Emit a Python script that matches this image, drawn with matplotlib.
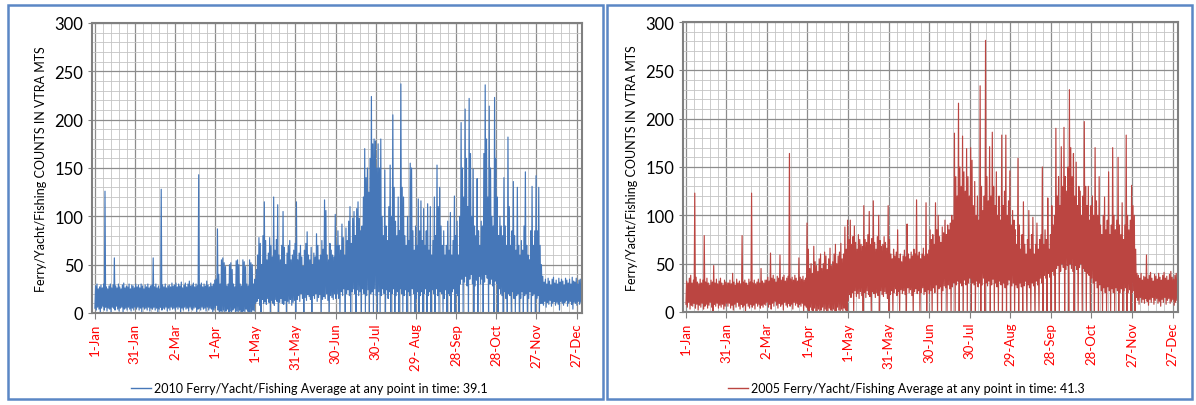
import numpy as np
import matplotlib
matplotlib.use('Agg')
import matplotlib.pyplot as plt
from matplotlib.patches import Rectangle
from matplotlib.lines import Line2D

plt.rcParams['font.family'] = ['Lato', 'DejaVu Sans']

tick_days = [0, 30, 60, 90, 120, 150, 180, 210, 240, 270, 300, 330, 360]
labels_2010 = ['1-Jan', '31-Jan', '2-Mar', '1-Apr', '1-May', '31-May', '30-Jun',
               '30-Jul', '29- Aug', '28-Sep', '28-Oct', '27-Nov', '27-Dec']
labels_2005 = ['1-Jan', '31-Jan', '2-Mar', '1-Apr', '1-May', '31-May', '30-Jun',
               '30-Jul', '29-Aug', '28-Sep', '28-Oct', '27-Nov', '27-Dec']

# daily peak / trough counts, one value per day (Jan..Dec)
hi_2010 = [
    28, 30, 25, 27, 29, 26, 30, 126, 27, 25, 28, 30, 26, 29, 57, 28, 26, 30, 27, 25, 29, 31, 26, 28, 27, 30, 25, 29, 28, 26, 30,
    27, 29, 26, 30, 28, 25, 29, 27, 30, 26, 28, 29, 57, 27, 30, 26, 28, 25, 128, 29, 27, 30, 26, 28, 29, 27, 31, 28,
    29, 31, 27, 30, 28, 32, 26, 29, 31, 27, 30, 33, 28, 29, 31, 27, 30, 28, 143, 29, 31, 27, 30, 28, 33, 29, 27, 31, 28, 30, 34,
    35, 87, 40, 30, 55, 57, 52, 48, 28, 30, 50, 52, 45, 30, 27, 54, 55, 50, 30, 28, 55, 53, 48, 30, 28, 55, 52, 50, 30, 35,
    45, 60, 78, 72, 50, 80, 115, 75, 55, 62, 78, 70, 58, 120, 65, 76, 112, 60, 55, 70, 105, 68, 50, 62, 70, 75, 55, 60, 65, 72, 115,
    55, 62, 70, 58, 48, 65, 72, 84, 60, 55, 68, 50, 62, 58, 82, 70, 55, 60, 75, 66, 117, 106, 60, 55, 72, 65, 60, 58, 102, 70,
    85, 70, 65, 92, 78, 60, 88, 75, 95, 110, 72, 98, 105, 80, 108, 115, 98, 85, 90, 120, 170, 140, 150, 125, 160, 224, 175, 180, 178, 150, 175,
    150, 180, 100, 80, 148, 90, 75, 110, 153, 100, 205, 130, 95, 80, 120, 85, 237, 130, 120, 80, 70, 100, 75, 155, 150, 85, 65, 90, 70, 118, 85,
    116, 75, 108, 70, 85, 113, 65, 110, 60, 75, 120, 80, 153, 110, 130, 90, 70, 85, 60, 70, 95, 65, 104, 60, 75, 121, 80, 95, 60, 100,
    197, 150, 120, 211, 160, 110, 222, 165, 100, 149, 90, 80, 139, 85, 70, 95, 90, 165, 236, 180, 120, 214, 150, 100, 90, 223, 160, 120, 80, 100, 90,
    80, 140, 90, 70, 182, 110, 70, 85, 136, 80, 65, 130, 70, 60, 75, 65, 90, 146, 70, 60, 55, 85, 131, 70, 85, 142, 85, 130, 70, 50,
    38, 32, 35, 30, 36, 33, 29, 35, 37, 31, 34, 30, 36, 32, 35, 33, 29, 36, 34, 31, 35, 30, 37, 33, 32, 36, 30, 34, 35, 31, 36,
]
lo_2010 = [
    5, 3, 6, 4, 0, 5, 7, 3, 6, 2, 5, 4, 0, 6, 5, 3, 7, 4, 2, 5, 6, 0, 4, 5, 3, 6, 4, 2, 5, 3, 6,
    4, 6, 3, 5, 0, 6, 4, 5, 3, 6, 2, 5, 4, 6, 3, 5, 0, 4, 6, 3, 5, 4, 6, 2, 5, 3, 6, 4,
    5, 3, 6, 4, 6, 0, 5, 3, 6, 4, 5, 2, 6, 4, 3, 5, 6, 0, 4, 5, 3, 6, 4, 5, 2, 6, 3, 5, 4, 0, 3,
    5, 8, 3, 0, 2, 0, 3, 0, 2, 4, 0, 2, 0, 3, 5, 0, 2, 0, 3, 1, 0, 2, 0, 4, 2, 0, 1, 0, 3, 2,
    10, 12, 15, 8, 0, 14, 10, 12, 9, 15, 11, 0, 13, 10, 8, 14, 12, 0, 11, 15, 10, 9, 13, 0, 12, 10, 14, 8, 11, 13, 0,
    14, 18, 12, 20, 15, 0, 16, 13, 19, 17, 14, 0, 18, 15, 20, 12, 16, 19, 0, 14, 17, 15, 20, 13, 0, 18, 16, 14, 20, 15,
    20, 15, 0, 22, 18, 25, 0, 20, 24, 18, 0, 22, 25, 20, 0, 24, 18, 22, 0, 25, 20, 0, 18, 24, 0, 20, 22, 0, 25, 18, 0,
    22, 0, 18, 25, 20, 0, 24, 15, 22, 0, 20, 25, 0, 18, 22, 0, 25, 20, 0, 18, 24, 0, 22, 18, 0, 25, 20, 0, 15, 22, 0,
    18, 22, 0, 20, 25, 0, 18, 22, 0, 24, 20, 0, 25, 18, 0, 22, 20, 0, 15, 24, 0, 20, 18, 0, 22, 25, 0, 20, 18, 0,
    30, 35, 0, 32, 38, 28, 0, 35, 40, 30, 0, 28, 34, 0, 38, 30, 35, 0, 32, 40, 36, 0, 30, 35, 28, 0, 33, 30, 0, 25, 20,
    18, 0, 22, 15, 0, 20, 18, 0, 22, 15, 0, 18, 20, 0, 15, 22, 0, 18, 20, 0, 15, 22, 0, 18, 20, 0, 15, 18, 0, 10,
    10, 8, 12, 6, 11, 9, 13, 7, 10, 12, 8, 11, 9, 3, 12, 10, 8, 11, 13, 7, 10, 12, 9, 4, 11, 10, 8, 12, 9, 11, 10,
]

hi_2005 = [
    32, 30, 35, 38, 30, 33, 123, 36, 31, 29, 34, 30, 33, 79, 31, 35, 30, 28, 33, 31, 48, 30, 34, 29, 32, 35, 30, 28, 33, 31, 30,
    30, 33, 29, 40, 31, 28, 34, 30, 32, 29, 79, 31, 33, 30, 28, 34, 31, 123, 30, 33, 29, 31, 34, 30, 45, 32, 30, 33,
    33, 36, 32, 61, 35, 38, 34, 31, 37, 35, 59, 33, 36, 38, 32, 35, 37, 164, 34, 36, 33, 38, 35, 32, 56, 36, 34, 37, 33, 35, 92,
    65, 45, 50, 40, 68, 52, 48, 42, 55, 60, 45, 50, 62, 58, 44, 55, 66, 48, 52, 60, 70, 50, 58, 62, 71, 55, 60, 88, 65, 95,
    75, 95, 70, 78, 89, 72, 65, 80, 75, 70, 68, 110, 75, 72, 80, 104, 70, 76, 115, 72, 65, 78, 100, 74, 68, 70, 78, 72, 66, 110, 75,
    60, 55, 65, 58, 62, 85, 55, 60, 52, 58, 64, 57, 91, 60, 55, 62, 58, 65, 60, 116, 58, 62, 55, 60, 66, 58, 113, 60, 64, 85,
    75, 80, 70, 113, 85, 100, 78, 72, 88, 82, 95, 80, 90, 85, 92, 100, 95, 185, 140, 120, 216, 150, 130, 182, 145, 125, 169, 140, 120, 170, 157,
    110, 135, 100, 120, 95, 234, 130, 105, 120, 281, 140, 115, 171, 120, 186, 130, 110, 145, 100, 120, 95, 183, 110, 125, 183, 100, 115, 146, 90, 105, 95,
    85, 70, 159, 90, 65, 80, 114, 70, 60, 75, 105, 65, 80, 98, 60, 70, 92, 65, 75, 80, 150, 70, 85, 75, 118, 65, 80, 110, 90, 100,
    190, 120, 140, 110, 171, 130, 191, 140, 125, 150, 230, 170, 140, 164, 120, 155, 110, 130, 125, 100, 120, 197, 130, 110, 130, 95, 110, 120, 100, 170, 115,
    100, 140, 90, 80, 100, 119, 85, 95, 145, 80, 90, 170, 100, 85, 95, 160, 90, 80, 113, 75, 90, 183, 100, 85, 95, 131, 110, 100, 65, 40,
    38, 35, 40, 33, 37, 36, 59, 34, 38, 41, 35, 32, 39, 37, 34, 40, 36, 33, 38, 41, 35, 37, 33, 39, 42, 36, 34, 38, 40, 35, 38,
]
lo_2005 = [
    8, 5, 10, 3, 7, 6, 9, 4, 8, 2, 7, 5, 9, 3, 6, 8, 4, 7, 10, 5, 0, 8, 6, 9, 4, 7, 5, 8, 3, 6, 9,
    6, 9, 4, 7, 2, 8, 5, 10, 6, 3, 8, 5, 7, 0, 9, 6, 4, 8, 5, 7, 3, 9, 6, 8, 4, 7, 5, 8,
    7, 10, 5, 8, 3, 9, 6, 11, 7, 4, 9, 6, 8, 2, 10, 7, 5, 9, 6, 8, 3, 10, 7, 9, 5, 8, 6, 9, 0, 7, 5,
    3, 0, 5, 2, 0, 4, 1, 0, 3, 0, 2, 5, 0, 3, 1, 0, 4, 2, 0, 3, 1, 0, 5, 2, 0, 3, 0, 4, 2, 0,
    12, 18, 15, 20, 0, 22, 16, 19, 14, 21, 17, 0, 20, 15, 22, 18, 16, 0, 21, 19, 15, 20, 17, 0, 22, 18, 16, 21, 19, 14, 0,
    18, 22, 0, 20, 24, 17, 21, 0, 23, 19, 22, 18, 0, 25, 20, 23, 17, 0, 21, 24, 19, 22, 0, 20, 25, 18, 21, 0, 23, 19,
    22, 0, 25, 20, 28, 0, 24, 26, 0, 22, 27, 25, 0, 28, 24, 0, 26, 30, 0, 28, 32, 0, 30, 27, 0, 33, 28, 0, 30, 35, 0,
    30, 28, 0, 32, 26, 30, 0, 28, 35, 0, 30, 27, 32, 0, 28, 34, 0, 30, 26, 0, 32, 28, 0, 30, 25, 0, 28, 33, 0, 27, 30,
    0, 28, 25, 0, 30, 26, 0, 27, 32, 0, 28, 25, 0, 30, 27, 0, 32, 28, 0, 35, 30, 0, 38, 35, 0, 40, 36, 0, 42, 38,
    0, 45, 48, 0, 42, 50, 46, 0, 44, 48, 0, 50, 45, 42, 0, 48, 44, 0, 46, 50, 0, 45, 42, 0, 40, 38, 0, 35, 30, 0, 32,
    25, 0, 28, 22, 0, 25, 20, 0, 26, 22, 0, 24, 20, 0, 25, 22, 0, 20, 24, 0, 22, 25, 0, 20, 23, 0, 20, 22, 0, 15,
    12, 8, 15, 10, 13, 9, 14, 11, 7, 13, 10, 15, 8, 12, 14, 9, 11, 6, 13, 10, 15, 8, 12, 14, 9, 11, 13, 7, 10, 12, 11,
]

legend_2010 = '2010 Ferry/Yacht/Fishing Average at any point in time: 39.1'
legend_2005 = '2005 Ferry/Yacht/Fishing Average at any point in time: 41.3'
ylabel = 'Ferry/Yacht/Fishing COUNTS IN VTRA MTS'


def zigzag(lo, hi):
    n = min(len(lo), len(hi))
    d = np.arange(n)
    x = np.column_stack((d + 0.2, d + 0.7)).ravel()
    y = np.column_stack((lo[:n], hi[:n])).ravel()
    return x, y


def draw_panel(fig, rect, lo, hi, color, labels, legend_text, leg_x):
    ax = fig.add_axes(rect)
    x, y = zigzag(lo, hi)
    ax.plot(x, y, color=color, lw=0.85)
    ax.set_xlim(-2, 364)
    ax.set_ylim(0, 300)
    ax.set_yticks(range(0, 301, 50))
    ax.set_yticks(range(0, 301, 10), minor=True)
    ax.set_xticks(tick_days)
    ax.set_xticks(np.arange(0, 364, 6), minor=True)
    ax.set_xticklabels(labels, rotation=90, color='#ff0000', fontsize=9.5)
    ax.tick_params(axis='y', labelsize=12, length=3, color='#808080')
    ax.tick_params(axis='x', length=4, color='#808080', pad=3)
    ax.tick_params(which='minor', length=0)
    ax.grid(which='major', color='#8c8c8c', lw=0.9)
    ax.grid(which='minor', color='#c4c4c4', lw=0.6)
    ax.set_axisbelow(True)
    for s in ax.spines.values():
        s.set_color('#808080')
        s.set_linewidth(1.5)
    ax.set_ylabel(ylabel, fontsize=9, labelpad=5)
    h = Line2D([], [], color=color, lw=1.0)
    ax.legend([h], [legend_text], loc='center', bbox_to_anchor=(leg_x, 0.042),
              bbox_transform=fig.transFigure, frameon=False, fontsize=9,
              handlelength=1.6, handletextpad=0.2)
    return ax


fig = plt.figure(figsize=(11.96, 4.06), dpi=100)

# panel borders
fig.patches.append(Rectangle((8 / 1196, 6 / 406), 595 / 1196, 394 / 406, transform=fig.transFigure,
                             fill=False, ec='#5b87c5', lw=1.8))
fig.patches.append(Rectangle((607 / 1196, 6 / 406), 585 / 1196, 394 / 406, transform=fig.transFigure,
                             fill=False, ec='#5b87c5', lw=1.8))

draw_panel(fig, [92 / 1196, 1 - 314 / 406, 490 / 1196, 290 / 406], lo_2010, hi_2010,
           '#4677b8', labels_2010, legend_2010, 0.2588)
draw_panel(fig, [683 / 1196, 1 - 313 / 406, 495 / 1196, 290 / 406], lo_2005, hi_2005,
           '#bb4541', labels_2005, legend_2005, 0.758)

fig.savefig('out.png', dpi=100)
